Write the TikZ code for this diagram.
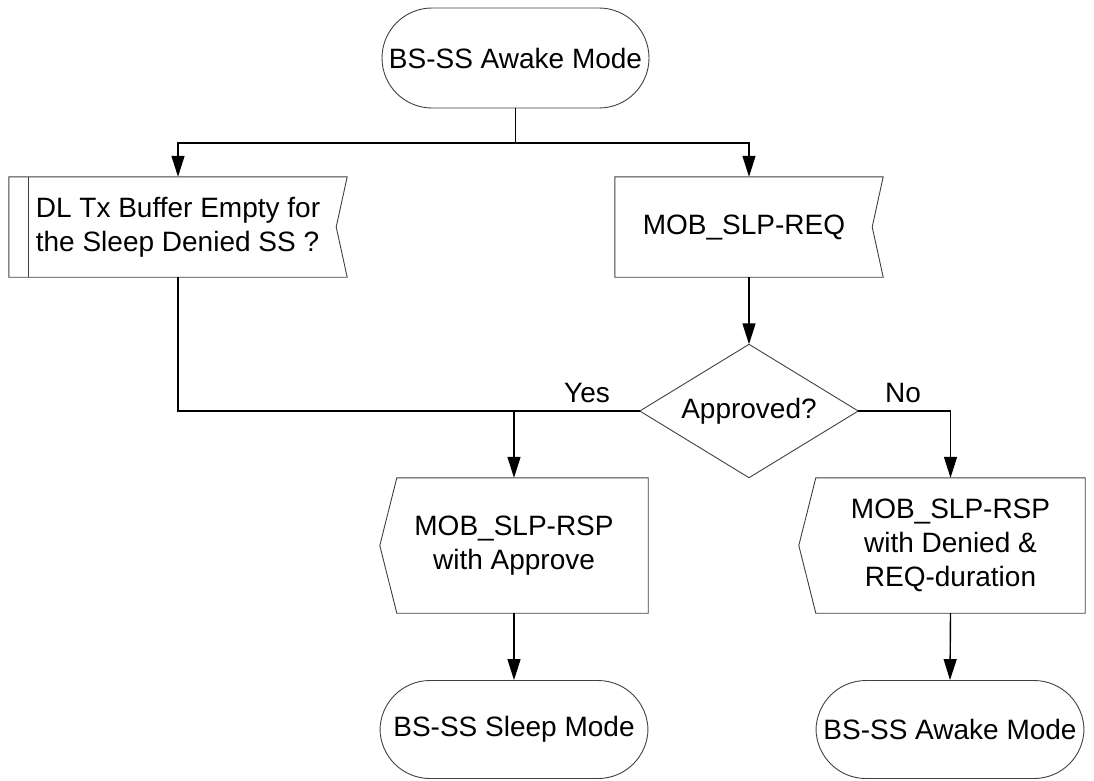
\documentclass[tikz,border=0pt]{standalone}
\usepackage{fontspec}
\setmainfont{Liberation Sans}
\usetikzlibrary{arrows.meta}
\newcommand\dfs{\fontsize{28}{34}\selectfont}
\begin{document}
\begin{tikzpicture}[x=1pt,y=-1pt,
  lbl/.style={font=\dfs, align=center, inner sep=0pt},
  shp/.style={draw=black!75, line width=0.9pt},
  term/.style={lbl, shp, rectangle, rounded corners=50pt, minimum width=267pt, minimum height=100pt},
  boxn/.style={lbl, rectangle, minimum height=100pt},
  conn/.style={line width=1.4pt, -{Triangle[length=21pt,width=13pt]}},
  wire/.style={line width=1.4pt}]
\useasboundingbox (0,0) rectangle (1094,780);

% nodes
\node[term] (top) at (515.5,58) {BS-SS Awake Mode};
\node[boxn, minimum width=338pt, align=left] (dl) at (178,227) {DL Tx Buffer Empty for\\the Sleep Denied SS ?};
\node[boxn, minimum width=268pt] (req) at (749,227) {\hspace*{-10pt}MOB\_SLP-REQ};
\node[lbl, minimum width=218pt, minimum height=133pt] (dia) at (749,411) {Approved?};
\node[lbl, minimum width=268pt, minimum height=135pt] (yes) at (514,545.5) {MOB\_SLP-RSP\\with Approve};
\node[lbl, minimum width=269pt, minimum height=135pt] (no) at (950.5,545.5) {MOB\_SLP-RSP\\with Denied \&\\REQ-duration};
\node[term, minimum width=268pt, minimum height=98pt] (sleep) at (514,729.5) {BS-SS Sleep Mode};
\node[term, minimum width=268pt, minimum height=98pt] (awake) at (950,729.5) {BS-SS Awake Mode};
\node[lbl, anchor=base] (yeslbl) at (587,402) {Yes};
\node[lbl, anchor=base] (nolbl) at (903,402) {No};

% outlines
\draw[shp] (dl.north west) -- (dl.north east) -- ([xshift=-11pt]dl.east) -- (dl.south east) -- (dl.south west) -- cycle;
\draw[shp] ([xshift=20pt]dl.north west) -- ([xshift=20pt]dl.south west);
\draw[shp] (req.north west) -- (req.north east) -- ([xshift=-11pt]req.east) -- (req.south east) -- (req.south west) -- cycle;
\draw[shp] (dia.north) -- (dia.east) -- (dia.south) -- (dia.west) -- cycle;
\draw[shp] ([xshift=17pt]yes.north west) -- (yes.north east) -- (yes.south east) -- ([xshift=17pt]yes.south west) -- (yes.west) -- cycle;
\draw[shp] (no.north west) -- (no.north east) -- (no.south east) -- (no.south west) -- ([xshift=-17pt]no.west) -- cycle;

% connectors
\coordinate (split) at (515.5,143);
\draw[wire] (top.south) -- (split);
\draw[conn] (split) -| (dl.north);
\draw[conn] (split) -| (req.north);
\draw[conn] (req.south) -- (dia.north);
\draw[wire] (dl.south) |- (dia.west);
\draw[conn] (yes.north |- dia.west) -- (yes.north);
\draw[conn] (dia.east) -| (no.north);
\draw[conn] (yes.south) -- (sleep.north);
\draw[conn] (no.south) -- (awake.north);
\end{tikzpicture}
\end{document}
